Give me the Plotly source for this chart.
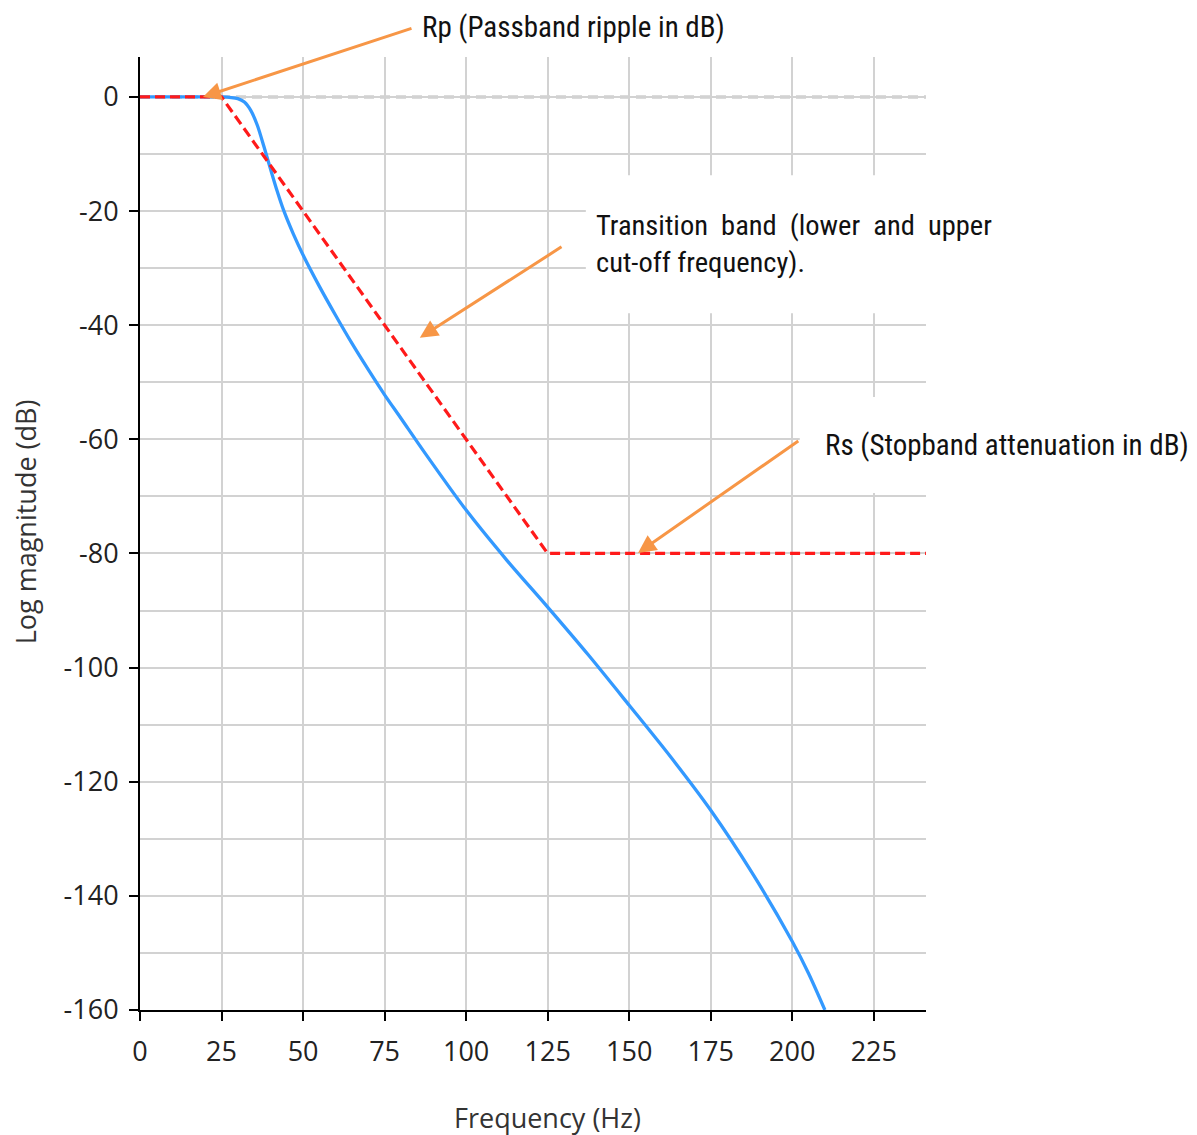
import plotly.graph_objects as go

# ---- data ----
freq_hz = [0, 10, 20, 25, 28, 30, 32, 34, 36, 38, 40, 42, 44, 47, 50, 55, 60, 65, 70, 75,
           80, 87.5, 100, 112.5, 125, 137.5, 150, 162.5, 175, 187.5, 200, 205, 210]
magnitude_db = [0, 0, 0, 0, -0.1, -0.3, -0.9, -2.4, -5.0, -8.7, -12.6, -16.4, -19.8, -24.0,
                -27.7, -33.2, -38.3, -43.2, -47.8, -52.2, -56.3, -62.5, -72.4, -81.2, -89.4,
                -97.8, -106.6, -115.5, -125.0, -135.8, -148.0, -153.6, -160.0]

spec_freq = [0, 25, 125, 241]
spec_db = [0, 0, -80, -80]

x_ticks = [0, 25, 50, 75, 100, 125, 150, 175, 200, 225]
y_ticks = [0, -20, -40, -60, -80, -100, -120, -140, -160]

X_RANGE = [0, 241]
Y_RANGE = [-160, 7]

ANN_FONT = "Roboto Condensed, Liberation Sans Narrow, DejaVu Sans Condensed, Roboto, sans-serif"
AX_FONT = "Open Sans, Noto Sans, sans-serif"
ORANGE = "#F79646"

fig = go.Figure()

fig.add_trace(go.Scatter(x=freq_hz, y=magnitude_db, mode="lines",
                         line=dict(color="#3399FF", width=3.3, shape="spline", smoothing=0.8),
                         showlegend=False, hoverinfo="skip"))
fig.add_trace(go.Scatter(x=spec_freq, y=spec_db, mode="lines",
                         line=dict(color="#FF1A1A", width=3.2, dash="10px,5px"),
                         showlegend=False, hoverinfo="skip"))

# gridline masks behind annotation text + dashed zero line
shapes = [
    dict(type="rect", xref="x", yref="y", x0=136.7, x1=250, y0=-37.9, y1=-13.7,
         fillcolor="white", line=dict(width=0), layer="between"),
    dict(type="rect", xref="x", yref="y", x0=202.3, x1=250, y0=-69.4, y1=-52.6,
         fillcolor="white", line=dict(width=0), layer="between"),
    dict(type="line", xref="paper", yref="y", x0=0, x1=1, y0=0, y1=0,
         line=dict(color="white", width=3), layer="between"),
    dict(type="line", xref="paper", yref="y", x0=0, x1=1, y0=0, y1=0,
         line=dict(color="#B8B8B8", width=3, dash="10px,6px"), layer="between"),
]

arrow = dict(showarrow=True, arrowhead=2, arrowsize=1.2, arrowwidth=3,
             arrowcolor=ORANGE, text="", axref="x", ayref="y", xref="x", yref="y",
             standoff=0, startstandoff=0)

annotations = [
    dict(arrow, x=19.3, y=0, ax=83.7, ay=12.1),
    dict(arrow, x=85.8, y=-42.2, ax=129.7, ay=-26.1),
    dict(arrow, x=152.7, y=-79.9, ax=202.3, ay=-60.1),
    dict(text="Rp (Passband ripple in dB)", xref="paper", yref="paper",
         x=0.356, y=1.0315, xanchor="left", yanchor="middle", showarrow=False,
         font=dict(family=ANN_FONT, size=29, color="#111111")),
    dict(text="Transition\u00a0\u00a0band\u00a0\u00a0(lower\u00a0\u00a0and\u00a0\u00a0upper<br>cut-off frequency).",
         xref="x", yref="y", x=139.3, y=-25.8, xanchor="left", yanchor="middle",
         align="left", showarrow=False,
         font=dict(family=ANN_FONT, size=28.5, color="#111111")),
    dict(text="Rs (Stopband attenuation in dB)", xref="x", yref="y",
         x=209.5, y=-61.0, xanchor="left", yanchor="middle", showarrow=False,
         font=dict(family=ANN_FONT, size=29, color="#111111")),
    # axis titles
    dict(text="Frequency (Hz)", xref="paper", yref="paper", x=0.519, y=-0.1133,
         xanchor="center", yanchor="middle", showarrow=False,
         font=dict(family=AX_FONT, size=27, color="#333333")),
    dict(text="Log magnitude (dB)", xref="paper", yref="paper", x=-0.146, y=0.512,
         xanchor="center", yanchor="middle", textangle=-90, showarrow=False,
         font=dict(family=AX_FONT, size=27, color="#333333")),
]

fig.update_layout(
    width=1189, height=1127,
    margin=dict(l=132, r=271, t=49, b=125),
    plot_bgcolor="white", paper_bgcolor="white",
    shapes=shapes, annotations=annotations,
    font=dict(family=AX_FONT, color="#222222"),
)

fig.update_xaxes(
    range=X_RANGE, tickvals=x_ticks, ticktext=[str(v) for v in x_ticks],
    showgrid=True, gridcolor="#D2D2D2", gridwidth=1.5,
    showline=True, linecolor="black", linewidth=2,
    ticks="outside", ticklen=9, tickwidth=2, tickcolor="black",
    ticklabelstandoff=8, automargin=False,
    tickfont=dict(size=27, family=AX_FONT, color="#222222"),
    zeroline=False,
)
fig.update_yaxes(
    range=Y_RANGE, tickvals=y_ticks, ticktext=[str(v) for v in y_ticks],
    showgrid=True, gridcolor="#D2D2D2", gridwidth=1.5,
    minor=dict(tickvals=[v - 10 for v in y_ticks[:-1]], showgrid=True,
               gridcolor="#D2D2D2", gridwidth=1.5, ticks=""),
    showline=True, linecolor="black", linewidth=2,
    ticks="outside", ticklen=9, tickwidth=2, tickcolor="black",
    ticklabelstandoff=5, automargin=False,
    tickfont=dict(size=27, family=AX_FONT, color="#222222"),
    zeroline=False,
)

fig.write_html("out.html")
